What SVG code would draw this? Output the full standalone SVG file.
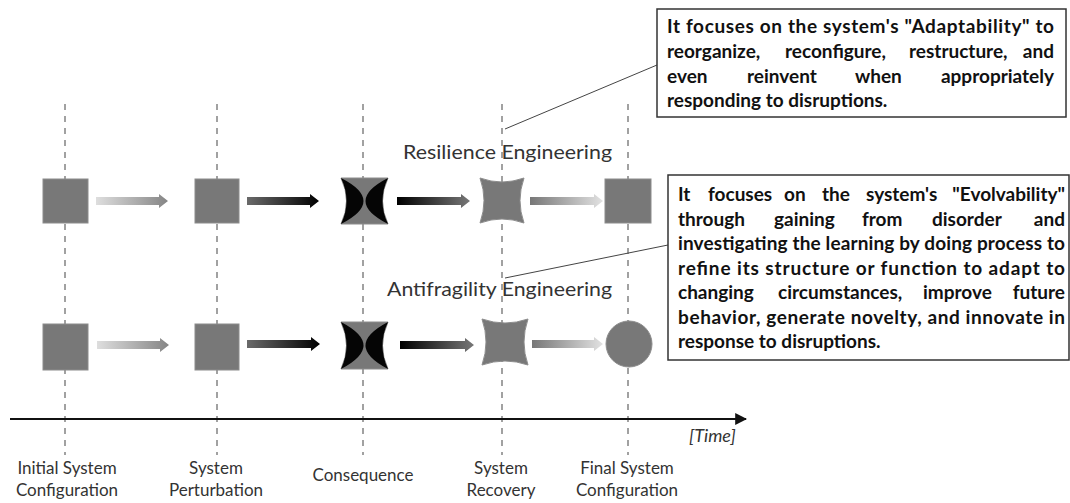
<svg xmlns="http://www.w3.org/2000/svg" width="1070" height="503" viewBox="0 0 1070 503">
  <defs>
    <linearGradient id="gLightToGray" x1="0" y1="0" x2="1" y2="0">
      <stop offset="0" stop-color="#dedede"/>
      <stop offset="1" stop-color="#858585"/>
    </linearGradient>
    <linearGradient id="gGrayToBlack" x1="0" y1="0" x2="1" y2="0">
      <stop offset="0" stop-color="#6a6a6a"/>
      <stop offset="1" stop-color="#000"/>
    </linearGradient>
    <linearGradient id="gBlackToGray" x1="0" y1="0" x2="1" y2="0">
      <stop offset="0" stop-color="#000"/>
      <stop offset="1" stop-color="#777"/>
    </linearGradient>
    <linearGradient id="gGrayToLight" x1="0" y1="0" x2="1" y2="0">
      <stop offset="0" stop-color="#777"/>
      <stop offset="1" stop-color="#e2e2e2"/>
    </linearGradient>
    <marker id="axisHead" viewBox="0 0 10 10" refX="9" refY="5" markerWidth="6" markerHeight="6" markerUnits="strokeWidth" orient="auto">
      <path d="M0,0 L10,5 L0,10 Z" fill="#111"/>
    </marker>
  </defs>
  <style>
    .guide { stroke: #8a8a8a; stroke-width: 1.6; stroke-dasharray: 6 6; fill: none; }
    .block { fill: #787878; stroke: #8c8c8c; stroke-width: 1; }
    .dark { fill: #050505; }
    .leader { stroke: #444; stroke-width: 1; fill: none; }
    .note { fill: #fff; stroke: #333; stroke-width: 1.5; }
    .noteText { font-family: Lato, "Liberation Sans", sans-serif; font-weight: bold; font-size: 19px; fill: #111; }
    .end { text-anchor: end; }
    .track { font-family: Lato, "Liberation Sans", sans-serif; font-size: 19px; fill: #333; }
    .stage { font-family: Lato, "Liberation Sans", sans-serif; font-size: 17px; fill: #333; text-anchor: middle; }
    .time { font-family: Lato, "Liberation Sans", sans-serif; font-size: 18px; font-style: italic; fill: #333; }
  </style>

  <rect width="1070" height="503" fill="#fff"/>

  <!-- stage guide lines -->
  <g id="guides">
    <line class="guide" x1="65" y1="104" x2="65" y2="455"/>
    <line class="guide" x1="217" y1="104" x2="217" y2="455"/>
    <line class="guide" x1="363" y1="104" x2="363" y2="455"/>
    <line class="guide" x1="502" y1="104" x2="502" y2="455"/>
    <line class="guide" x1="628" y1="104" x2="628" y2="455"/>
  </g>

  <!-- time axis -->
  <g id="axis">
    <line x1="10" y1="419" x2="746" y2="419" stroke="#111" stroke-width="2" marker-end="url(#axisHead)"/>
    <text class="time" x="689" y="442">[Time]</text>
  </g>

  <!-- connectors: transition arrows and callout leaders -->
  <g id="connectors">
    <path fill="url(#gLightToGray)" d="M96,197 L159,197 L159,194 L168,201 L159,208 L159,205 L96,205 Z"/>
    <path fill="url(#gGrayToBlack)" d="M247,197 L310,197 L310,194 L319,201 L310,208 L310,205 L247,205 Z"/>
    <path fill="url(#gBlackToGray)" d="M397,197 L461,197 L461,194 L470,201 L461,208 L461,205 L397,205 Z"/>
    <path fill="url(#gGrayToLight)" d="M530,197 L594,197 L594,194 L603,201 L594,208 L594,205 L530,205 Z"/>

    <path fill="url(#gLightToGray)" d="M97,341 L160,341 L160,338 L169,345 L160,352 L160,349 L97,349 Z"/>
    <path fill="url(#gGrayToBlack)" d="M247,340 L311,340 L311,337 L320,344 L311,351 L311,348 L247,348 Z"/>
    <path fill="url(#gBlackToGray)" d="M400,341 L465,341 L465,338 L474,345 L465,352 L465,349 L400,349 Z"/>
    <path fill="url(#gGrayToLight)" d="M532,340 L594,340 L594,337 L603,344 L594,351 L594,348 L532,348 Z"/>

    <line class="leader" x1="505" y1="129" x2="657" y2="65"/>
    <line class="leader" x1="505" y1="278" x2="668" y2="245"/>
  </g>

  <!-- resilience track -->
  <g id="r-initial"><rect class="block" x="43" y="179" width="45" height="44"/></g>
  <g id="r-perturbation"><rect class="block" x="195" y="179" width="44" height="44"/></g>
  <g id="r-consequence">
    <path class="block" stroke="none" d="M341,178 L388,178 Q377,201 388,224 L341,224 Q352,201 341,178 Z"/>
    <path class="dark" d="M341,178 Q352,201 341,224 Q386,201 341,178 Z"/>
    <path class="dark" d="M388,178 Q377,201 388,224 Q343,201 388,178 Z"/>
  </g>
  <g id="r-recovery">
    <path class="block" d="M480,178 Q502,186 524,178 Q516,200.5 524,223 Q502,215 480,223 Q488,200.5 480,178 Z"/>
  </g>
  <g id="r-final"><rect class="block" x="605" y="179" width="46" height="44"/></g>

  <!-- antifragility track -->
  <g id="a-initial"><rect class="block" x="43" y="324" width="45" height="46"/></g>
  <g id="a-perturbation"><rect class="block" x="195" y="324" width="44" height="46"/></g>
  <g id="a-consequence">
    <path class="block" stroke="none" d="M341,322 L388,322 Q377,345.5 388,369 L341,369 Q352,345.5 341,322 Z"/>
    <path class="dark" d="M341,322 Q352,345.5 341,369 Q386,345.5 341,322 Z"/>
    <path class="dark" d="M388,322 Q377,345.5 388,369 Q343,345.5 388,322 Z"/>
  </g>
  <g id="a-recovery">
    <path class="block" d="M482,319 Q505,327 528,319 Q520,342 528,365 Q505,357 482,365 Q490,342 482,319 Z"/>
  </g>
  <g id="a-final"><circle class="block" cx="629" cy="344" r="23"/></g>

  <!-- track titles -->
  <g id="title-resilience">
    <text class="track" x="403" y="159" textLength="209" lengthAdjust="spacingAndGlyphs">Resilience Engineering</text>
  </g>
  <g id="title-antifragility">
    <text class="track" x="387" y="296" textLength="225" lengthAdjust="spacingAndGlyphs">Antifragility Engineering</text>
  </g>

  <!-- note: adaptability (justified lines) -->
  <g id="note-adaptability">
    <rect class="note" x="657" y="9" width="409" height="108"/>
    <text class="noteText" x="667" y="33" textLength="387" lengthAdjust="spacing">It focuses on the system's "Adaptability" to</text>
    <text class="noteText" y="58"><tspan x="667">reorganize,</tspan><tspan x="785">reconfigure,</tspan><tspan x="909">restructure,</tspan><tspan class="end" x="1054">and</tspan></text>
    <text class="noteText" y="83"><tspan x="667">even</tspan><tspan x="747">reinvent</tspan><tspan x="855">when</tspan><tspan class="end" x="1054">appropriately</tspan></text>
    <text class="noteText" x="667" y="107">responding to disruptions.</text>
  </g>

  <!-- note: evolvability (justified lines) -->
  <g id="note-evolvability">
    <rect class="note" x="668" y="175" width="401" height="185"/>
    <text class="noteText" y="201"><tspan x="678">It</tspan><tspan x="708">focuses</tspan><tspan x="784">on</tspan><tspan x="822">the</tspan><tspan x="866">system's</tspan><tspan class="end" x="1065">"Evolvability"</tspan></text>
    <text class="noteText" y="225.5"><tspan x="678">through</tspan><tspan x="774">gaining</tspan><tspan x="862">from</tspan><tspan x="932">disorder</tspan><tspan class="end" x="1065">and</tspan></text>
    <text class="noteText" x="678" y="250" textLength="387" lengthAdjust="spacing">investigating the learning by doing process to</text>
    <text class="noteText" x="678" y="274.5" textLength="387" lengthAdjust="spacing">refine its structure or function to adapt to</text>
    <text class="noteText" y="299"><tspan x="678">changing</tspan><tspan x="778">circumstances,</tspan><tspan x="923">improve</tspan><tspan class="end" x="1065">future</tspan></text>
    <text class="noteText" x="678" y="323.5" textLength="387" lengthAdjust="spacing">behavior, generate novelty, and innovate in</text>
    <text class="noteText" x="678" y="348">response to disruptions.</text>
  </g>

  <!-- stage labels -->
  <g id="label-initial"><text class="stage" x="67" y="474">Initial System</text><text class="stage" x="67" y="496">Configuration</text></g>
  <g id="label-perturbation"><text class="stage" x="216" y="474">System</text><text class="stage" x="216" y="496">Perturbation</text></g>
  <g id="label-consequence"><text class="stage" x="363" y="481">Consequence</text></g>
  <g id="label-recovery"><text class="stage" x="501" y="474">System</text><text class="stage" x="501" y="496">Recovery</text></g>
  <g id="label-final"><text class="stage" x="627" y="474">Final System</text><text class="stage" x="627" y="496">Configuration</text></g>
</svg>
